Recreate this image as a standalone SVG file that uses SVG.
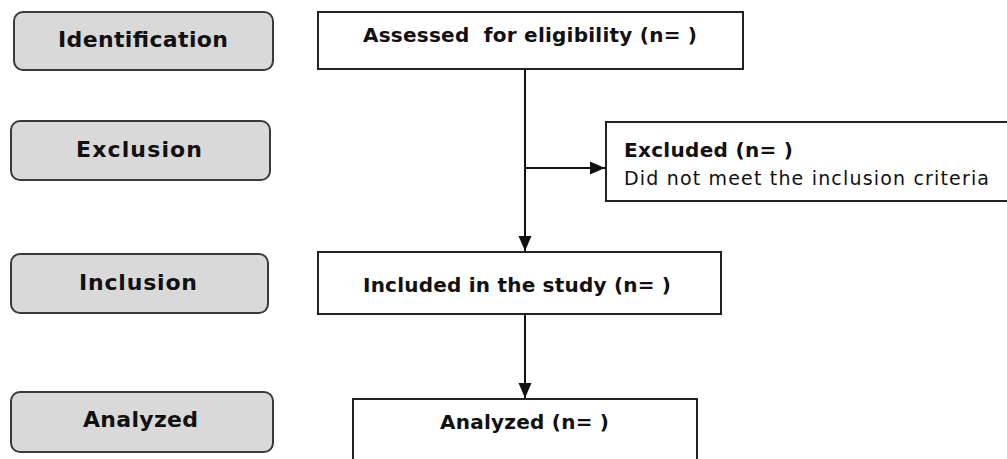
<svg xmlns="http://www.w3.org/2000/svg" width="1007" height="459" viewBox="0 0 1007 459">
  <style>
    .stage { fill: #d9d9d9; stroke: #3a3a3a; stroke-width: 2; }
    .box { fill: #ffffff; stroke: #222222; stroke-width: 2; }
    .lbl { font-family: "DejaVu Sans", Verdana, sans-serif; font-weight: bold; font-size: 22px; fill: #111111; white-space: pre; }
    .btxt { font-family: "DejaVu Sans", Verdana, sans-serif; font-weight: bold; font-size: 20px; fill: #111111; white-space: pre; }
    .ntxt { font-family: "DejaVu Sans", Verdana, sans-serif; font-size: 19px; fill: #111111; white-space: pre; }
    .conn { stroke: #111111; stroke-width: 2; fill: none; }
  </style>
  <defs>
    <marker id="arrow" markerUnits="userSpaceOnUse" markerWidth="16" markerHeight="14" refX="15" refY="7" orient="auto">
      <polygon points="0,0.5 15,7 0,13.5" fill="#111111"/>
    </marker>
  </defs>
  <rect width="1007" height="459" fill="#ffffff"/>

  <g id="stage-identification">
    <rect class="stage" x="14" y="12" width="259" height="58" rx="9"/>
    <text class="lbl" x="58" y="47" textLength="170" lengthAdjust="spacing">Identification</text>
  </g>
  <g id="stage-exclusion">
    <rect class="stage" x="11" y="121" width="259" height="59" rx="9"/>
    <text class="lbl" x="76" y="157" textLength="126" lengthAdjust="spacing">Exclusion</text>
  </g>
  <g id="stage-inclusion">
    <rect class="stage" x="11" y="254" width="257" height="59" rx="9"/>
    <text class="lbl" x="79" y="290" textLength="118" lengthAdjust="spacing">Inclusion</text>
  </g>
  <g id="stage-analyzed">
    <rect class="stage" x="11" y="392" width="262" height="60" rx="9"/>
    <text class="lbl" x="83" y="427" textLength="115" lengthAdjust="spacing">Analyzed</text>
  </g>

  <g id="node-assessed">
    <rect class="box" x="318" y="12" width="425" height="57"/>
    <text class="btxt" x="363" y="42" textLength="334" lengthAdjust="spacing">Assessed  for eligibility (n= )</text>
  </g>
  <g id="node-excluded">
    <rect class="box" x="606" y="122" width="410" height="79"/>
    <text class="btxt" x="624" y="157" textLength="169" lengthAdjust="spacing">Excluded (n= )</text>
    <text class="ntxt" x="624" y="185" textLength="365" lengthAdjust="spacing">Did not meet the inclusion criteria</text>
  </g>
  <g id="node-included">
    <rect class="box" x="318" y="252" width="403" height="62"/>
    <text class="btxt" x="363" y="292" textLength="308" lengthAdjust="spacing">Included in the study (n= )</text>
  </g>
  <g id="node-analyzed">
    <rect class="box" x="353" y="399" width="344" height="80"/>
    <text class="btxt" x="440" y="429" textLength="169" lengthAdjust="spacing">Analyzed (n= )</text>
  </g>

  <g id="connectors">
    <line class="conn" x1="525" y1="69" x2="525" y2="251" marker-end="url(#arrow)"/>
    <line class="conn" x1="525" y1="168" x2="605" y2="168" marker-end="url(#arrow)"/>
    <line class="conn" x1="525" y1="314" x2="525" y2="398" marker-end="url(#arrow)"/>
  </g>
</svg>
